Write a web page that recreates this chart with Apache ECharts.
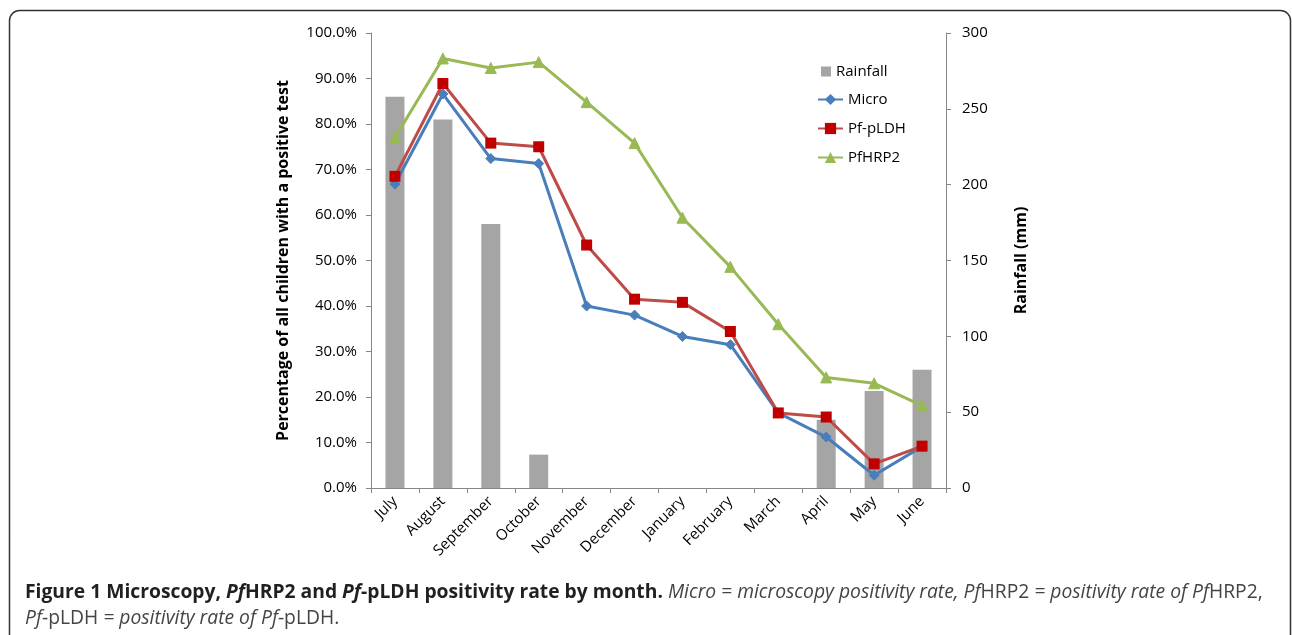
<!DOCTYPE html>
<html>
<head>
<meta charset="utf-8">
<script src="https://cdn.jsdelivr.net/npm/echarts@6/dist/echarts.min.js"></script>
<style>
  html, body { margin: 0; padding: 0; background: #ffffff; }
  #chart { width: 1292px; height: 635px; }
</style>
</head>
<body>
<div id="chart"></div>
<script>
const months = ['July', 'August', 'September', 'October', 'November', 'December', 'January', 'February', 'March', 'April', 'May', 'June'];
const rainfall = [258, 243, 174, 22, 0, 0, 0, 0, 0, 45, 64, 78];
const micro = [66.8, 86.6, 72.4, 71.3, 40.0, 38.0, 33.3, 31.5, 16.5, 11.2, 2.8, 9.1];
const pldh = [68.5, 88.9, 75.8, 75.0, 53.4, 41.5, 40.8, 34.4, 16.5, 15.6, 5.3, 9.2];
const hrp2 = [77.0, 94.4, 92.3, 93.6, 84.8, 75.8, 59.4, 48.6, 36.0, 24.3, 23.0, 18.1];
const leftTicks = { min: 0, max: 100, interval: 10 };
const rightTicks = { min: 0, max: 300, interval: 50 };

const FONT = '"Open Sans", "Liberation Sans", sans-serif';
const CAP = 19.3;
const chart = echarts.init(document.getElementById('chart'), null, { renderer: 'canvas' });

const axisGrey = '#868686';

chart.setOption({
  backgroundColor: '#ffffff',
  animation: false,
  textStyle: { fontFamily: FONT },
  grid: { left: 371, right: 346, top: 33, bottom: 147, containLabel: false },
  legend: [
    {
      data: [{ name: 'Rainfall', icon: 'rect' }],
      left: 816, top: 59, orient: 'vertical',
      itemWidth: 10, itemHeight: 10,
      textStyle: { fontFamily: FONT, fontSize: 15, color: '#000', lineHeight: 15 }
    },
    {
      data: ['Micro', 'Pf-pLDH', 'PfHRP2'],
      left: 812, top: 87, orient: 'vertical',
      itemWidth: 25, itemHeight: 14, itemGap: 14,
      textStyle: { fontFamily: FONT, fontSize: 15, color: '#000', lineHeight: 14 }
    }
  ],
  xAxis: {
    type: 'category',
    data: months,
    boundaryGap: true,
    axisLine: { lineStyle: { color: axisGrey, width: 1 } },
    axisTick: { show: true, alignWithLabel: false, length: 5, lineStyle: { color: axisGrey } },
    axisLabel: { rotate: 45, color: '#000', fontSize: 15, fontFamily: FONT, margin: 11, interval: 0 },
    splitLine: { show: false }
  },
  yAxis: [
    {
      type: 'value',
      min: leftTicks.min, max: leftTicks.max, interval: leftTicks.interval,
      position: 'left',
      name: 'Percentage of all children with a positive test',
      nameLocation: 'middle', nameRotate: 90, nameGap: 80,
      nameTextStyle: { fontFamily: FONT, fontSize: 16, fontWeight: 'bold', color: '#000' },
      axisLine: { show: true, lineStyle: { color: axisGrey, width: 1 } },
      axisTick: { show: true, length: 5, lineStyle: { color: axisGrey } },
      axisLabel: { color: '#000', fontSize: 15, fontFamily: FONT, margin: 14,
        formatter: v => v.toFixed(1) + '%' },
      splitLine: { show: false }
    },
    {
      type: 'value',
      min: rightTicks.min, max: rightTicks.max, interval: rightTicks.interval,
      position: 'right',
      name: 'Rainfall (mm)',
      nameLocation: 'middle', nameRotate: 90, nameGap: 67,
      nameTextStyle: { fontFamily: FONT, fontSize: 16, fontWeight: 'bold', color: '#000' },
      axisLine: { show: true, lineStyle: { color: axisGrey, width: 1 } },
      axisTick: { show: true, length: 5, lineStyle: { color: axisGrey } },
      axisLabel: { color: '#000', fontSize: 15, fontFamily: FONT, margin: 16 },
      splitLine: { show: false }
    }
  ],
  series: [
    {
      name: 'Rainfall', type: 'bar', yAxisIndex: 1, data: rainfall,
      barWidth: 19, z: 1,
      itemStyle: { color: '#a5a5a5', borderWidth: 0 }
    },
    {
      name: 'Micro', type: 'line', data: micro, z: 3,
      symbol: 'diamond', symbolSize: 10,
      lineStyle: { color: '#4a7ebb', width: 3 },
      itemStyle: { color: '#4a7ebb', borderColor: '#4a7ebb' }
    },
    {
      name: 'Pf-pLDH', type: 'line', data: pldh, z: 4,
      symbol: 'rect', symbolSize: 11,
      lineStyle: { color: '#be4b48', width: 3 },
      itemStyle: { color: '#c00000', borderWidth: 0 }
    },
    {
      name: 'PfHRP2', type: 'line', data: hrp2, z: 2,
      symbol: 'triangle', symbolSize: 11,
      lineStyle: { color: '#98b954', width: 3 },
      itemStyle: { color: '#98b954', borderColor: '#98b954' }
    }
  ],
  graphic: [
    {
      type: 'rect', z: -1, silent: true,
      shape: { x: 9.5, y: 10.5, width: 1281, height: 640, r: 10 },
      style: { fill: null, stroke: '#333', lineWidth: 1.5 }
    },
    {
      type: 'text', left: 25, top: 583, silent: true,
      style: {
        text: '{b|Figure 1 Microscopy, }{bi|Pf}{b|HRP2 and }{bi|Pf}{b|-pLDH positivity rate by month. }{i|Micro = microscopy positivity rate, Pf}{n|HRP2}{i| = positivity rate of Pf}{n|HRP2,}',
        fontFamily: FONT, fontSize: CAP,
        rich: {
          b: { fontFamily: FONT, fontSize: CAP, fontWeight: 'bold', fill: '#231f20' },
          bi: { fontFamily: FONT, fontSize: CAP, fontWeight: 'bold', fontStyle: 'italic', fill: '#231f20' },
          i: { fontFamily: FONT, fontSize: CAP, fontStyle: 'italic', fill: '#444' },
          n: { fontFamily: FONT, fontSize: CAP, fill: '#444' }
        }
      }
    },
    {
      type: 'text', left: 25, top: 609, silent: true,
      style: {
        text: '{i|Pf}{n|-pLDH}{i| = positivity rate of Pf}{n|-pLDH.}',
        fontFamily: FONT, fontSize: CAP,
        rich: {
          i: { fontFamily: FONT, fontSize: CAP, fontStyle: 'italic', fill: '#444' },
          n: { fontFamily: FONT, fontSize: CAP, fill: '#444' }
        }
      }
    }
  ]
});
</script>
</body>
</html>
